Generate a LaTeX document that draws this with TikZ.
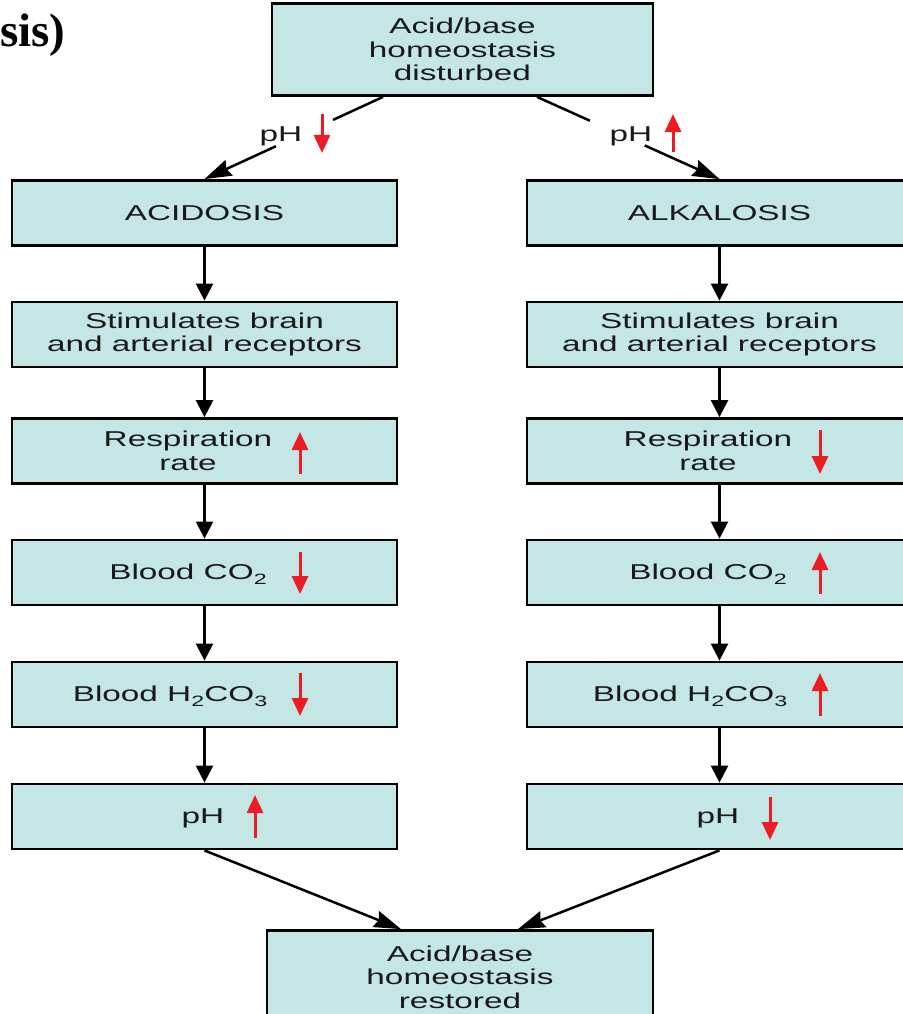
\documentclass[tikz,border=0pt]{standalone}
\usepackage{fontspec}
\newfontfamily\boxfont{Liberation Sans}[FakeStretch=1.55]
\newfontfamily\headfont{Liberation Serif}
\usetikzlibrary{arrows.meta,calc}
\definecolor{boxfill}{RGB}{196,230,228}
\definecolor{arrred}{RGB}{237,28,36}
\definecolor{txt}{RGB}{25,25,25}
\newcommand\sbs[1]{\raisebox{-5pt}{\fontsize{15}{15}\selectfont #1}}
\begin{document}
\begin{tikzpicture}[x=1pt,y=-1pt,
  box/.style={draw=black, line width=2.8pt, fill=boxfill, minimum width=385pt,
    minimum height=65pt, inner sep=0pt, align=center, text=txt,
    font=\boxfont\fontsize{21.5}{23.5}\selectfont},
  lbl/.style={inner sep=0pt, align=center, text=txt, font=\boxfont\fontsize{21.5}{23.5}\selectfont},
  flow/.style={draw=black, line width=2.5pt, -{Triangle[length=17pt,width=17pt]}},
  diag/.style={draw=black, line width=2.5pt, -{Stealth[length=27pt,width=17pt,inset=3pt]}},
  plain/.style={draw=black, line width=2.5pt},
  redarr/.style={draw=arrred, line width=3pt, -{Triangle[length=18pt,width=16pt]}}
]
\useasboundingbox (0,0) rectangle (902,1014);

% cut-off heading
\node[anchor=base west, inner sep=0pt, font=\headfont\bfseries\fontsize{47}{47}\selectfont] (head) at (0,47) {sis)};

% top and bottom boxes
\node[box, minimum width=381pt, minimum height=92pt] (top) at (462.5,49.5) {Acid/base\\homeostasis\\disturbed};
\node[box, minimum width=386pt, minimum height=93pt] (bot) at (460,977) {Acid/base\\homeostasis\\restored};

% left column
\node[box] (acid)  at (204.5,213)   {ACIDOSIS};
\node[box] (stimL) at (204.5,334.5) {Stimulates brain\\and arterial receptors};
\node[box] (respL) at (204.5,451)   {};
\node[box] (co2L)  at (204.5,572.5) {};
\node[box] (hcoL)  at (204.5,694.5) {};
\node[box] (phL)   at (204.5,816.5) {};

% right column
\node[box] (alk)   at (719.5,213)   {ALKALOSIS};
\node[box] (stimR) at (719.5,334.5) {Stimulates brain\\and arterial receptors};
\node[box] (respR) at (719.5,451)   {};
\node[box] (co2R)  at (719.5,572.5) {};
\node[box] (hcoR)  at (719.5,694.5) {};
\node[box] (phR)   at (719.5,816.5) {};

% labels inside boxes
\node[lbl] (respLt) at (188,451) {Respiration\\rate};
\node[lbl, anchor=base] (co2Lt) at (188,579.5) {Blood CO\sbs{2}};
\node[lbl, anchor=base] (hcoLt) at (170,701.5) {Blood H\sbs{2}CO\sbs{3}};
\node[lbl, anchor=base] (phLt)  at (203,823.5) {pH};
\node[lbl] (respRt) at (708,451) {Respiration\\rate};
\node[lbl, anchor=base] (co2Rt) at (708,579.5) {Blood CO\sbs{2}};
\node[lbl, anchor=base] (hcoRt) at (690,701.5) {Blood H\sbs{2}CO\sbs{3}};
\node[lbl, anchor=base] (phRt)  at (718,823.5) {pH};

% top branch labels
\node[lbl, anchor=base] (phTL) at (281,142) {pH};
\node[lbl, anchor=base] (phTR) at (631,142) {pH};

% red indicator arrows
\draw[redarr] (322,114) -- (322,153);
\draw[redarr] (673,152) -- (673,114);
\draw[redarr] (300,474) -- (300,432);
\draw[redarr] (300,552) -- (300,594);
\draw[redarr] (300,673) -- (300,716);
\draw[redarr] (255,838) -- (255,795);
\draw[redarr] (820,430) -- (820,474);
\draw[redarr] (820,594) -- (820,552);
\draw[redarr] (820,716) -- (820,673);
\draw[redarr] (770,797) -- (770,840);

% diagonal connectors from the top box
\coordinate (tl) at ($(top.south)+(-79.5,0)$);
\coordinate (tr) at ($(top.south)+(74.5,0)$);
\coordinate (gl1) at ($(tl)!0.28!(acid.north)$);
\coordinate (gl2) at ($(tl)!0.60!(acid.north)$);
\coordinate (gr1) at ($(tr)!0.29!(alk.north)$);
\coordinate (gr2) at ($(tr)!0.59!(alk.north)$);
\draw[plain] (tl) -- (gl1);
\draw[diag] (gl2) -- (acid.north);
\draw[plain] (tr) -- (gr1);
\draw[diag] (gr2) -- (alk.north);

% vertical flow
\draw[flow] (acid) -- (stimL);
\draw[flow] (stimL) -- (respL);
\draw[flow] (respL) -- (co2L);
\draw[flow] (co2L) -- (hcoL);
\draw[flow] (hcoL) -- (phL);
\draw[flow] (alk) -- (stimR);
\draw[flow] (stimR) -- (respR);
\draw[flow] (respR) -- (co2R);
\draw[flow] (co2R) -- (hcoR);
\draw[flow] (hcoR) -- (phR);

% converging connectors
\coordinate (bl) at ($(bot.north)+(-59,0)$);
\coordinate (br) at ($(bot.north)+(58,0)$);
\draw[diag] (phL.south) -- (bl);
\draw[diag] (phR.south) -- (br);
\end{tikzpicture}
\end{document}
